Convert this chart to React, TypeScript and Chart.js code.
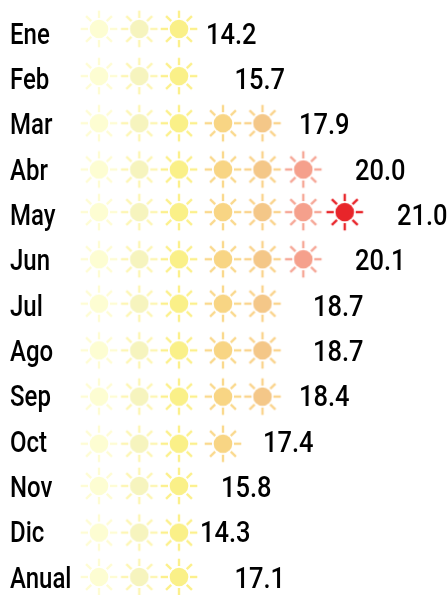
import React, { useEffect, useRef } from "react";
import { Chart, registerables } from "chart.js";

Chart.register(...registerables);

const months = ["Ene", "Feb", "Mar", "Abr", "May", "Jun", "Jul", "Ago", "Sep", "Oct", "Nov", "Dic", "Anual"];
const values = [14.2, 15.7, 17.9, 20.0, 21.0, 20.1, 18.7, 18.7, 18.4, 17.4, 15.8, 14.3, 17.1];
const sunCounts = [3, 3, 5, 6, 7, 6, 5, 5, 5, 4, 3, 3, 3];
const sunColumns = [99, 139.3, 179, 223, 262.5, 303.3, 344.7];
const sunRows = [-0.09, 0.95, 1.99, 3.01, 3.95, 4.99, 5.97, 7.0, 8.02, 9.06, 9.99, 11.02, 12.0];
const valueColumns = [206, 234.5, 299, 355, 397, 355, 313, 313, 299, 263, 221, 200, 234.5];
const bodyColors = ["#FDFDD2", "#F6F4BE", "#FAF088", "#F8D584", "#F4C788", "#F5A08C", "#E8252A"];
const rayColors = ["#FEFCD4", "#FDF6B4", "#FCF08C", "#FAD98E", "#FAD48E", "#F6A898", "#E8252A"];

const FONT = 'Roboto, sans-serif';
const FONT_SIZE = 30;
const CAP_HALF = 10.7;
const SQUEEZE_VALUE = 0.85;
const SQUEEZE_LABEL = 0.8;

function makeSun(body: string, ray: string) {
  const size = 42;
  const c = document.createElement("canvas");
  c.width = size;
  c.height = size;
  const g = c.getContext("2d")!;
  const m = size / 2;
  g.strokeStyle = ray;
  g.lineWidth = 2.4;
  for (let i = 0; i < 8; i++) {
    const a = (i * Math.PI) / 4;
    g.beginPath();
    g.moveTo(m + Math.cos(a) * 11, m + Math.sin(a) * 11);
    g.lineTo(m + Math.cos(a) * 18.3, m + Math.sin(a) * 18.3);
    g.stroke();
  }
  g.fillStyle = body;
  g.beginPath();
  g.arc(m, m, 9.3, 0, Math.PI * 2);
  g.fill();
  return c;
}

function squeezedText(ctx: any, text: string, x: number, y: number, k: number) {
  ctx.save();
  ctx.translate(x, y);
  ctx.scale(k, 1);
  ctx.fillText(text, 0, 0);
  ctx.restore();
}

const textLayer = {
  id: "textLayer",
  afterDatasetsDraw(chart: any) {
    const ctx = chart.ctx;
    const sx = chart.scales.x;
    const sy = chart.scales.y;
    ctx.save();
    ctx.font = `500 ${FONT_SIZE}px ${FONT}`;
    ctx.fillStyle = "#000";
    ctx.textAlign = "left";
    ctx.textBaseline = "alphabetic";
    months.forEach((m, i) => {
      const y = sy.getPixelForValue(i) + CAP_HALF;
      squeezedText(ctx, m, sx.getPixelForValue(10), y, SQUEEZE_LABEL);
      squeezedText(ctx, values[i].toFixed(1), sx.getPixelForValue(valueColumns[i]), y, SQUEEZE_VALUE);
    });
    ctx.restore();
  },
};

export default function App() {
  const ref = useRef<HTMLCanvasElement>(null);
  useEffect(() => {
    const datasets = sunColumns.map((col, k) => ({
      label: `sun${k + 1}`,
      data: months.flatMap((_, i) => (sunCounts[i] > k ? [{ x: col, y: sunRows[i] }] : [])),
      pointStyle: makeSun(bodyColors[k], rayColors[k]),
      pointRadius: 21,
      showLine: false,
      clip: false,
    }));
    const chart = new Chart(ref.current!, {
      type: "scatter",
      data: { datasets } as any,
      options: {
        animation: false,
        responsive: false,
        layout: { autoPadding: false, padding: { top: 33, bottom: 18, left: 0, right: 0 } },
        plugins: { legend: { display: false }, tooltip: { enabled: false } },
        scales: {
          x: { type: "linear", min: 0, max: 447, display: false },
          y: { type: "linear", min: 0, max: 12, reverse: true, display: false },
        },
      },
      plugins: [textLayer],
    } as any);
    return () => chart.destroy();
  }, []);
  return (
    <canvas
      ref={ref}
      width={447}
      height={595}
      style={{ position: "absolute", left: 0, top: 0, width: 447, height: 595 }}
    />
  );
}
